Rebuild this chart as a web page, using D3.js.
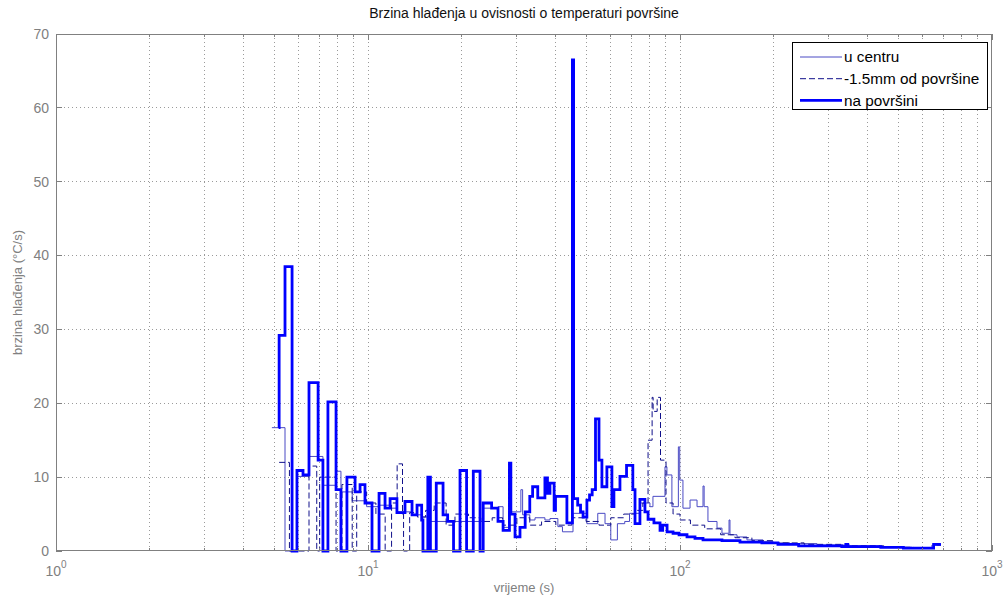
<!DOCTYPE html>
<html><head><meta charset="utf-8">
<script src="https://cdn.jsdelivr.net/npm/d3@7"></script>
<style>body{margin:0;background:#fff;} svg{display:block;font-family:"Liberation Sans",Arial,sans-serif;}</style>
</head><body><svg id="c" width="1004" height="598"></svg>
<script>
// ---- data (time in s, cooling rate in °C/s), stairs series ----
const tCenter = [4.92,5.42,5.92,6.47,7.17,7.9,8.19,8.9,9.9,10.85,11.77,12.4,13.84,14.9,15.57,23.4,26.1,27.1,28.3,30.9,31.3,33.0,34.3,36.9,38.3,40.6,42.0,45.4,50.3,54.5,57.5,60.0,63.0,66.5,68.9,74.4,80.1,81.9,89.5,90.8,94.2,98.8,99.8,102.2,107.7,113.4,118.5,119.5,122.9,131.4,136.3,143.6,144.6,152.3,163.9,184.5,198.7,225,274.8,350.6,437.5,554,642,686];
const rCenter = [16.7,0,10.1,12.8,8.9,10.8,8.0,6.8,6.0,6.2,5.8,5.3,4.9,4.6,4.0,5.8,6.0,3.2,5.3,8.3,4.9,4.2,4.5,4.2,4.4,3.3,2.6,5.1,3.7,5.1,3.7,1.5,3.7,4.0,5.1,6.5,6.0,7.4,11.4,10.3,6.0,14.1,9.6,5.8,6.9,6.0,8.8,6.0,4.0,3.1,2.4,4.2,2.2,1.9,1.5,1.3,1.1,1.0,0.8,0.7,0.5,0.4,0.8,0.8];

const tMid = [5.19,5.6,6.47,6.85,7.0,7.9,8.25,8.9,9.2,9.9,10.6,11.35,11.9,12.4,12.9,13.0,13.6,14.4,15.3,16.3,17.8,19.0,21.0,23.0,25.0,27.0,30.0,33.0,36.0,40.0,45.0,50.0,55.0,60.0,66.0,72.0,76.0,79.0,81.4,82.0,84.5,86.6,90.2,95.0,100,108,120,135,150,170,200,250,330,450,560,650,686];
const rMid = [12.0,0,11.5,0,10.0,0,9.0,0,8.0,6.5,5.0,0,6.5,11.8,5.0,0,5.2,4.6,5.5,6.5,3.5,5.0,4.5,4.0,4.5,3.5,4.5,3.5,4.0,3.5,4.5,4.0,3.5,4.5,5.0,5.5,6.5,15.0,20.8,18.9,20.8,12.3,6.5,5.0,4.2,3.5,3.0,2.2,1.8,1.4,1.1,0.9,0.7,0.5,0.4,0.8,0.8];

const tSurf = [5.17,5.19,5.42,5.71,5.92,6.19,6.47,6.92,7.17,7.44,7.90,8.19,8.56,9.09,9.43,9.78,10.3,10.85,11.34,11.77,12.38,13.14,13.84,14.36,14.86,15.0,15.55,15.85,16.55,17.4,18.0,18.8,19.72,20.7,21.75,22.86,23.4,24.9,26.1,27.1,28.4,28.7,29.6,30.7,31.9,33.0,33.7,35.0,36.9,37.6,38.3,39.5,39.9,43.4,45.2,45.6,47.0,48.0,48.9,50.3,51.3,52.3,53.6,55.0,56.2,58.3,60.5,61.4,64.2,67.4,70.6,71.75,74.4,77.2,79.0,82.5,86.3,88.0,90.9,95.0,99.3,105.3,111.7,118.5,136.3,155.7,183,206,240,330,340,345,440,520,650,686];
const rSurf = [16.7,29.2,38.5,0,10.9,10.3,22.8,12.3,0,20.2,8.3,0,10.0,8.0,9.0,6.5,0,7.8,5.8,7.1,5.2,6.7,4.9,6.2,4.2,0,10.0,0,9.2,4.9,4.0,0,10.9,0,10.8,0,6.5,5.8,4.0,2.8,11.9,5.0,1.9,3.2,5.3,7.4,8.7,7.2,9.9,7.8,9.2,5.5,7.4,3.8,66.5,7.1,6.2,5.3,4.6,6.9,7.6,8.3,17.9,12.3,8.7,11.4,6.0,8.3,10.1,11.6,8.3,3.7,7.0,5.3,4.3,3.8,2.8,3.5,2.6,2.4,2.2,1.9,1.7,1.5,1.4,1.2,1.1,0.9,0.7,0.6,0.9,0.6,0.5,0.4,0.9,0.9];

const xTicks = [1,10,100,1000];
const yTicks = [0,10,20,30,40,50,60,70];
const seriesNames = ["u centru","-1.5mm od površine","na površini"];
const titleText = "Brzina hlađenja u ovisnosti o temperaturi površine";
const xLabel = "vrijeme (s)";
const yLabel = "brzina hlađenja (°C/s)";

// ---- drawing ----
const svg = d3.select("#c");
const L=56, R=992, T=34, B=551;
const x = d3.scaleLog().domain([1,1000]).range([L,R]);
const y = d3.scaleLinear().domain([0,70]).range([B,T]);
const axisCol = "#808080", gridCol = "#9a9a9a";

svg.append("rect").attr("x",L).attr("y",T).attr("width",R-L).attr("height",B-T).attr("fill","#fff");

// grid
const minor = x.ticks().filter(v => v>1 && v<1000);
svg.append("g").selectAll("line").data(minor).join("line")
  .attr("x1",d=>x(d)).attr("x2",d=>x(d)).attr("y1",T).attr("y2",B)
  .attr("stroke",gridCol).attr("stroke-width",1).attr("stroke-dasharray","1,3").attr("shape-rendering","crispEdges");
svg.append("g").selectAll("line").data(yTicks.filter(v=>v>0&&v<70)).join("line")
  .attr("x1",L).attr("x2",R).attr("y1",d=>y(d)).attr("y2",d=>y(d))
  .attr("stroke",gridCol).attr("stroke-width",1).attr("stroke-dasharray","1,3").attr("shape-rendering","crispEdges");

// series
svg.append("clipPath").attr("id","pc").append("rect").attr("x",L).attr("y",T-2).attr("width",R-L).attr("height",B-T+4);
const line = d3.line().x(d=>x(d[0])).y(d=>y(d[1])).curve(d3.curveStepAfter);
const zip = (a,b)=>a.map((v,i)=>[v,b[i]]);
const g = svg.append("g").attr("clip-path","url(#pc)");
const styles = [
  {col:"#4a4ac4", w:1, dash:null},
  {col:"#10108a", w:1, dash:"6,3"},
  {col:"#0000ff", w:2.8, dash:null}
];
const data = [zip(tCenter,rCenter), zip(tMid,rMid), zip(tSurf,rSurf)];
data.forEach((d,i)=>{
  g.append("path").attr("d",line(d)).attr("fill","none")
   .attr("stroke",styles[i].col).attr("stroke-width",styles[i].w)
   .attr("stroke-dasharray",styles[i].dash).attr("stroke-linejoin","miter");
});

// axes box
svg.append("rect").attr("x",L+0.5).attr("y",T+0.5).attr("width",R-L-1).attr("height",B-T-1)
  .attr("fill","none").attr("stroke",axisCol).attr("stroke-width",1).attr("shape-rendering","crispEdges");

// ticks
const tg = svg.append("g").attr("stroke",axisCol).attr("shape-rendering","crispEdges");
x.ticks().forEach(v=>{
  const len = xTicks.includes(v)?6:3;
  tg.append("line").attr("x1",x(v)).attr("x2",x(v)).attr("y1",B).attr("y2",B-len);
  tg.append("line").attr("x1",x(v)).attr("x2",x(v)).attr("y1",T).attr("y2",T+len);
});
yTicks.forEach(v=>{
  tg.append("line").attr("x1",L).attr("x2",L+6).attr("y1",y(v)).attr("y2",y(v));
  tg.append("line").attr("x1",R).attr("x2",R-6).attr("y1",y(v)).attr("y2",y(v));
});

// tick labels
xTicks.forEach(v=>{
  const t = svg.append("text").attr("x",x(v)).attr("y",576).attr("text-anchor","middle")
    .attr("fill",axisCol).attr("font-size",14);
  t.append("tspan").text("10");
  t.append("tspan").attr("dy",-8).attr("font-size",10).text(String(Math.round(Math.log10(v))));
});
yTicks.forEach(v=>{
  svg.append("text").attr("x",49).attr("y",y(v)).attr("dy","0.35em").attr("text-anchor","end")
    .attr("fill",axisCol).attr("font-size",14).text(v);
});

// labels
svg.append("text").attr("x",(L+R)/2).attr("y",18).attr("text-anchor","middle").attr("fill","#111")
  .attr("font-size",14).text(titleText);
svg.append("text").attr("x",(L+R)/2).attr("y",592).attr("text-anchor","middle").attr("fill",axisCol)
  .attr("font-size",13).text(xLabel);
svg.append("text").attr("transform",`translate(22,${(T+B)/2}) rotate(-90)`).attr("text-anchor","middle")
  .attr("fill",axisCol).attr("font-size",13).text(yLabel);

// legend
const lg = svg.append("g");
lg.append("rect").attr("x",792.5).attr("y",42.5).attr("width",195).attr("height",67)
  .attr("fill","#fff").attr("stroke","#000").attr("stroke-width",1);
seriesNames.forEach((n,i)=>{
  const yy = 57 + i*21.7;
  lg.append("line").attr("x1",800).attr("x2",842).attr("y1",yy).attr("y2",yy)
    .attr("stroke",styles[i].col).attr("stroke-width",styles[i].w).attr("stroke-dasharray",styles[i].dash);
  lg.append("text").attr("x",844).attr("y",yy).attr("dy","0.35em").attr("fill","#000")
    .attr("font-size",15.3).text(n);
});
</script></body></html>
